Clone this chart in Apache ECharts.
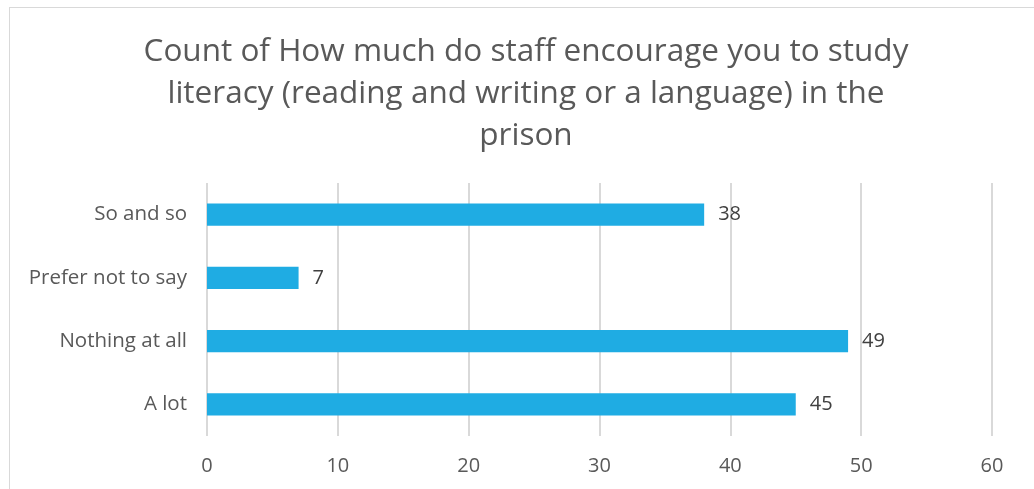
<!DOCTYPE html>
<html>
<head>
<meta charset="utf-8">
<script src="https://cdn.jsdelivr.net/npm/echarts@6/dist/echarts.min.js"></script>
<style>
  html, body { margin: 0; padding: 0; background: #fff; }
  #frame { position: absolute; left: 9px; top: 7px; width: 1030px; height: 490px; border: 1px solid #d9d9d9; box-sizing: border-box; }
  #chart { position: absolute; left: 0; top: 0; width: 1034px; height: 489px; }
</style>
</head>
<body>
<div id="frame"></div>
<div id="chart"></div>
<script>
// Survey responses, bottom-to-top as drawn on the category axis
const categories = ['A lot', 'Nothing at all', 'Prefer not to say', 'So and so'];
const counts = [45, 49, 7, 38];
const titleLines = [
  'Count of How much do staff encourage you to study',
  'literacy (reading and writing or a language) in the',
  'prison'
];

const FONT = 'Open Sans';

const chart = echarts.init(document.getElementById('chart'));
chart.setOption({
  animation: false,
  title: {
    text: titleLines.join('\n'),
    left: 521,
    textAlign: 'center',
    top: 26,
    textStyle: {
      fontFamily: FONT,
      fontWeight: 'normal',
      fontSize: 31.5,
      lineHeight: 42,
      color: '#595959'
    }
  },
  grid: { left: 207, right: 42, top: 183, bottom: 53, containLabel: false },
  xAxis: {
    type: 'value',
    min: 0,
    max: 60,
    interval: 10,
    axisLine: { show: false },
    axisTick: { show: false },
    splitLine: { lineStyle: { color: '#d9d9d9', width: 2 } },
    axisLabel: { margin: 20, fontFamily: FONT, fontSize: 20, color: '#595959' }
  },
  yAxis: {
    type: 'category',
    data: categories,
    axisLine: { show: false },
    axisTick: { show: false },
    axisLabel: { margin: 20, fontFamily: FONT, fontSize: 20.5, color: '#595959' }
  },
  series: [{
    type: 'bar',
    data: counts,
    barWidth: '35%',
    itemStyle: { color: '#1FACE3' },
    label: {
      show: true,
      position: 'right',
      distance: 14,
      fontFamily: FONT,
      fontSize: 20,
      color: '#404040'
    }
  }]
});
</script>
</body>
</html>
